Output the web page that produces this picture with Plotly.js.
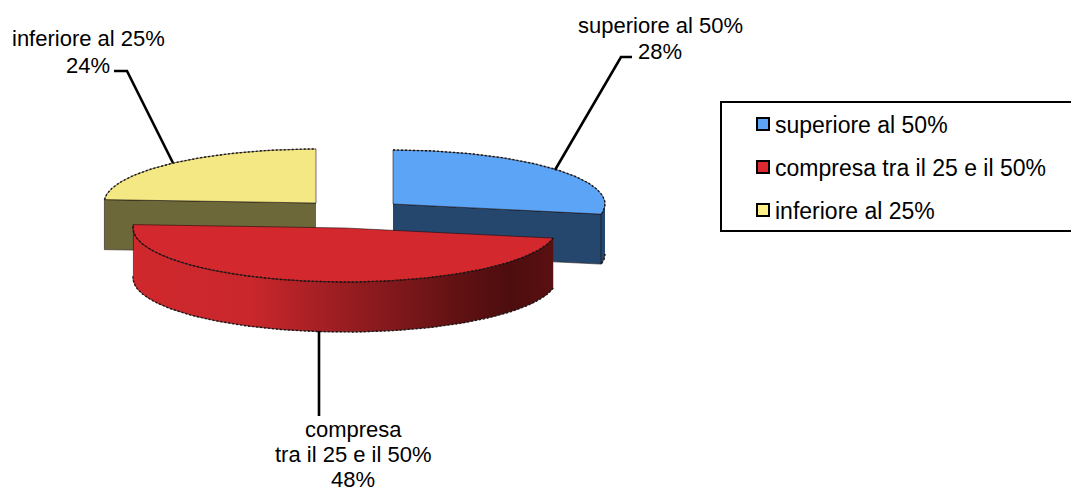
<!DOCTYPE html>
<html>
<head>
<meta charset="utf-8">
<script src="https://cdn.plot.ly/plotly-3.0.1.min.js"></script>
<style>html,body{margin:0;padding:0;background:#fff}#chart{width:1071px;height:490px}</style>
</head>
<body>
<div id="chart"></div>
<script>
// Shares of the three classes, in percent, clockwise from 12 o'clock.
const categories = ["superiore al 50%", "compresa tra il 25 e il 50%", "inferiore al 25%"];
const shares = [28, 48, 24];
const calloutLines = [
  ["superiore al 50%", "28%"],
  ["compresa", "tra il 25 e il 50%", "48%"],
  ["inferiore al 25%", "24%"]
];

// Colours per slice.
const topColors = ["#5ba4f6", "#d3282e", "#f3e883"];
const sideColors = ["#25466d", "#cf282d", "#6c683a"];
const swatchColors = ["#5ba4f6", "#dc2a30", "#fff089"];

// Pie projection: squashed ellipse, extruded downward, each slice pulled out from the middle.
const radiusX = 212, radiusY = 54, depth = 50;
const sliceCentres = [[393, 204], [345, 228], [316, 203]];

// Callout leader lines, in page pixels.
const leaders = [
  {x: [555, 621, 632], y: [170, 57, 57]},
  {x: [319, 319], y: [331, 416]},
  {x: [114, 127, 173], y: [71, 71, 163]}
];
const calloutPos = [[660, 25], [353, 429], [88, 38.5]];
const calloutSteps = [26, 25, 26.5];

function rimPoint(c, deg) {
  const a = deg * Math.PI / 180;
  return [c[0] + radiusX * Math.sin(a), c[1] - radiusY * Math.cos(a)];
}
function rimArc(c, from, to) {
  const n = Math.max(2, Math.ceil(Math.abs(to - from)));
  const pts = [];
  for (let i = 0; i <= n; i++) pts.push(rimPoint(c, from + (to - from) * i / n));
  return pts;
}
function fillTrace(pts, color, extra) {
  return Object.assign({
    type: "scatter", mode: "lines", hoverinfo: "skip", showlegend: false,
    x: pts.map(p => p[0]), y: pts.map(p => p[1]),
    fill: "toself", fillcolor: color,
    line: {color: "rgba(20,10,10,0.55)", width: 1}
  }, extra || {});
}
function stipple(pts) {
  return {
    type: "scatter", mode: "lines", hoverinfo: "skip", showlegend: false,
    x: pts.map(p => p[0]), y: pts.map(p => p[1]),
    line: {color: "#1a1414", width: 1.4, dash: "2px,2px"}
  };
}
const down = p => [p[0], p[1] + depth];

// Slice angular extents from the shares.
let acc = 0;
const spans = shares.map(s => { const from = acc * 3.6; acc += s; return [from, acc * 3.6]; });

function sliceTraces(i, opts) {
  const c = sliceCentres[i], [from, to] = spans[i], out = [];
  const rim = rimArc(c, from, to);
  // Cut face or outer wall, whichever shows toward the viewer.
  if (opts.wall) {
    const front = rimArc(c, Math.max(from, 90), to);
    const poly = front.concat(front.slice().reverse().map(down));
    out.push(fillTrace(poly, sideColors[i], opts.wallExtra));
    out.push(stipple(front.map(down)));
  }
  if (opts.cut) {
    const edge = opts.cut === "end" ? rim[rim.length - 1] : rim[0];
    const extraRim = i === 0 ? rimArc(c, 90, to) : [];
    const poly = [c, edge, down(edge), down(c)];
    out.push(fillTrace(poly, sideColors[i]));
    if (extraRim.length) {
      out.push(fillTrace(extraRim.concat(extraRim.slice().reverse().map(down)), sideColors[i]));
      out.push(stipple(extraRim.map(down)));
    }
  }
  out.push(fillTrace([c].concat(rim, [c]), topColors[i]));
  out.push(stipple(rim));
  return out;
}

const traces = [];
// Back slices first, the large front slice last so it overlaps them.
traces.push(...sliceTraces(2, {cut: "start"}));
traces.push(...sliceTraces(0, {cut: "end"}));
traces.push(...sliceTraces(1, {
  wall: true,
  wallExtra: {
    fillgradient: {
      type: "horizontal",
      colorscale: [[0, "#cf282d"], [0.28, "#c9272c"], [0.55, "#8f1b1f"], [0.8, "#5c1012"], [0.9, "#4d0d0e"], [1, "#5a1011"]]
    },
    line: {color: "rgba(50,10,10,0.6)", width: 1}
  }
}));

// Leaders and legend swatches.
leaders.forEach(l => traces.push({
  type: "scatter", mode: "lines", hoverinfo: "skip", showlegend: false,
  x: l.x, y: l.y, line: {color: "#000", width: 2.6}
}));
const legendRows = [124, 167, 210];
traces.push({
  type: "scatter", mode: "markers", hoverinfo: "skip", showlegend: false,
  x: categories.map(() => 763), y: legendRows,
  marker: {symbol: "square", size: 12, color: swatchColors, line: {color: "#000", width: 2}}
});

const textFont = size => ({family: "Liberation Sans, Arial, sans-serif", size, color: "#000"});
const annotations = [];
calloutLines.forEach((lines, i) => lines.forEach((t, j) => annotations.push({
  x: calloutPos[i][0], y: calloutPos[i][1] + j * calloutSteps[i], xref: "x", yref: "y",
  text: t, showarrow: false, xanchor: "center", yanchor: "middle",
  font: textFont(22)
})));
categories.forEach((t, i) => annotations.push({
  x: 773, y: legendRows[i] + 1, xref: "x", yref: "y",
  text: t, showarrow: false, xanchor: "left", yanchor: "middle",
  font: textFont(23)
}));

const layout = {
  width: 1071, height: 490,
  margin: {l: 0, r: 0, t: 0, b: 0},
  paper_bgcolor: "#fff", plot_bgcolor: "#fff",
  showlegend: false,
  xaxis: {range: [0, 1071], visible: false, fixedrange: true},
  yaxis: {range: [490, 0], visible: false, fixedrange: true},
  shapes: [{
    type: "rect", xref: "x", yref: "y", x0: 721, x1: 1075, y0: 102, y1: 231,
    line: {color: "#000", width: 2}, fillcolor: "rgba(0,0,0,0)"
  }],
  annotations
};
Plotly.newPlot("chart", traces, layout, {displayModeBar: false, staticPlot: true});
</script>
</body>
</html>
